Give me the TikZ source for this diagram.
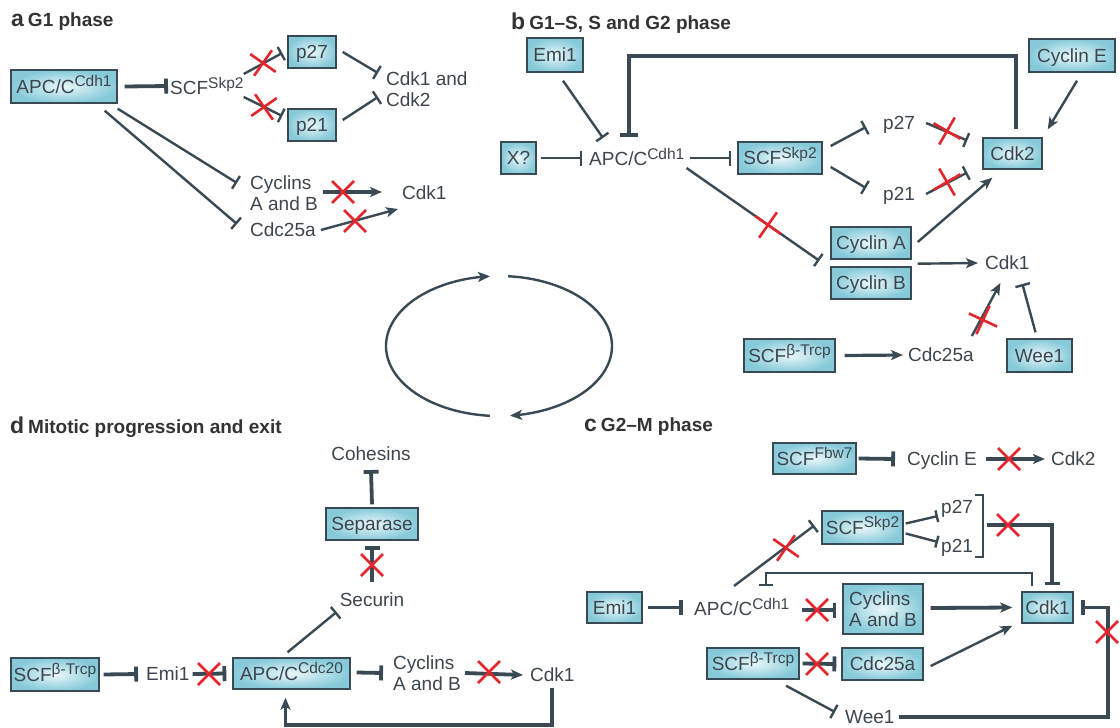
\documentclass[tikz,border=0pt]{standalone}
\usepackage{fontspec}
\setmainfont{Liberation Sans}
\usetikzlibrary{arrows.meta,calc}
\definecolor{ln}{HTML}{3A4A54}
\definecolor{tx}{HTML}{3D464E}
\definecolor{bxo}{HTML}{86CAD9}
\definecolor{bxi}{HTML}{EAF7FA}
\definecolor{xr}{HTML}{E3262D}
\newcommand\upx[1]{\raisebox{6.5pt}{\fontsize{15.5}{15.5}\selectfont #1}}
\begin{document}
\begin{tikzpicture}[x=1pt,y=-1pt,
  lab/.style={text=tx, font=\fontsize{19}{20.5}\selectfont, inner sep=0pt, text height=13.6pt, text depth=0pt},
  lab2/.style={text=tx, font=\fontsize{19}{20.5}\selectfont, inner sep=0pt, align=left},
  box/.style={lab, draw=ln, line width=1.4pt, inner color=bxi, outer color=bxo, minimum height=32pt},
  box2/.style={lab2, draw=ln, line width=1.4pt, inner color=bxi, outer color=bxo},
  ttl/.style={anchor=west, inner sep=0pt, text=black!80, font=\fontsize{19}{22}\selectfont\bfseries},
  con/.style={draw=ln, line width=2.4pt},
  hv/.style={line width=3.8pt},
  inh/.style={con, -{Bar[width=15pt]}},
  act/.style={con, -{Stealth[length=12pt,width=10pt,inset=3pt]}},
  xm/.pic={\draw[xr, line width=2.6pt] (-11,-11) -- (11,11) (-11,11) -- (11,-11);}
]
\fill[white] (0,0) rectangle (1120,728);
\useasboundingbox (0,0) rectangle (1120,728);

% titles
\node[ttl] (ta) at (11,22) {{\fontsize{23}{23}\selectfont a}\hspace{4pt}G1 phase};
\node[ttl] (tb) at (511,23) {{\fontsize{23}{23}\selectfont b}\hspace{4pt}G1–S, S and G2 phase};
\node[ttl] (td) at (10,427) {{\fontsize{23}{23}\selectfont d}\hspace{4pt}Mitotic progression and exit};
\node[ttl] (tc) at (584,427) {{\fontsize{23}{23}\selectfont c}\hspace{4pt}G2–M phase};

% ---------- panel a ----------
\node[box, minimum width=106pt, minimum height=33pt] (a-apc) at (64,86.5) {APC/C\upx{Cdh1}};
\node[lab, anchor=west] (a-scf) at (170,88) {SCF\upx{Skp2}};
\node[box, minimum width=48pt] (a-p27) at (312,52) {p27};
\node[box, minimum width=48pt] (a-p21) at (312,125) {p21};
\node[lab2, anchor=west] (a-cdk12) at (386,89) {Cdk1 and\\Cdk2};
\node[lab2, anchor=west] (a-cyc) at (250,193) {Cyclins\\A and B};
\node[lab, anchor=west] (a-cdk1) at (402,193) {Cdk1};
\node[lab, anchor=west] (a-cdc) at (250,230) {Cdc25a};

\draw[inh,hv] ($(a-apc.east)+(7,0)$) -- ($(a-scf.west)+(-2,-2)$);
\draw[inh] ($(a-scf.east)+(0,-14)$) -- ($(a-p27.west)+(-5,1)$);
\draw[inh] ($(a-scf.east)+(0,9)$) -- ($(a-p21.west)+(-5,-9)$);
\draw[inh] ($(a-p27.east)+(6,0)$) -- ($(a-cdk12.west)+(-8,-16)$);
\draw[inh] ($(a-p21.east)+(6,-5)$) -- ($(a-cdk12.west)+(-8,8)$);
\draw[inh] ($(a-apc.south east)+(0,5)$) -- ($(a-cyc.west)+(-13,-10)$);
\draw[inh] ($(a-apc.south east)+(-13,7)$) -- ($(a-cdc.west)+(-13,-6)$);
\draw[act,hv] ($(a-cyc.east)+(5,-1)$) -- ($(a-cdk1.west)+(-20,-1)$);
\draw[act] ($(a-cdc.east)+(5,0)$) -- ($(a-cdk1.west)+(-4,16)$);
\pic[rotate=10] at (263,63) {xm};
\pic[rotate=-10] at (264,107) {xm};
\pic at (343,192) {xm};
\pic at (355,221) {xm};

% ---------- panel b ----------
\node[box, minimum width=56pt, minimum height=34pt] (b-emi) at (555,55) {Emi1};
\node[box, minimum width=86pt, minimum height=33pt] (b-cyce) at (1072,55.5) {Cyclin E};
\node[box, minimum width=35pt] (b-x) at (518.5,158) {X?};
\node[lab, anchor=west] (b-apc) at (589,159) {APC/C\upx{Cdh1}};
\node[box, minimum width=84pt] (b-scf) at (780,158) {SCF\upx{Skp2}};
\node[lab, anchor=west] (b-p27) at (883,123) {p27};
\node[lab, anchor=west] (b-p21) at (883,194) {p21};
\node[box, minimum width=59pt, minimum height=31pt] (b-cdk2) at (1012.5,153.5) {Cdk2};
\node[box, minimum width=80pt] (b-cyca) at (871,243) {Cyclin A};
\node[box, minimum width=80pt] (b-cycb) at (871,283) {Cyclin B};
\node[lab, anchor=west] (b-cdk1) at (985,263) {Cdk1};
\node[box, minimum width=91pt, minimum height=33pt] (b-scfb) at (789.5,355.5) {SCF\upx{β-Trcp}};
\node[lab, anchor=west] (b-cdc) at (908,355) {Cdc25a};
\node[box, minimum width=65pt, minimum height=33pt] (b-wee) at (1039.5,355.5) {Wee1};

\draw[con, line width=4.2pt, -{Bar[width=18pt]}] ($(b-cdk2.north)+(3.5,-8)$) -- ++(0,-73) -| ($(b-apc.north west)+(40,-15)$);
\draw[inh] ($(b-emi.south)+(8,8)$) -- ($(b-apc.north west)+(14,-14)$);
\draw[inh] ($(b-x.east)+(4,0)$) -- ($(b-apc.west)+(-7,-1)$);
\draw[inh] ($(b-apc.east)+(5,-1)$) -- ($(b-scf.west)+(-6,0)$);
\draw[inh] ($(b-apc.south east)+(2,2)$) -- ($(b-cyca.south west)+(-11,1)$);
\pic[rotate=10] at (768,225) {xm};
\draw[inh] ($(b-scf.east)+(8,-12)$) -- ($(b-p27.west)+(-17,4)$);
\draw[inh] ($(b-scf.east)+(8,9)$) -- ($(b-p21.west)+(-17,-6)$);
\draw[inh] ($(b-p27.east)+(11,0)$) -- ($(b-cdk2.west)+(-15,-13)$);
\draw[inh] ($(b-p21.east)+(11,0)$) -- ($(b-cdk2.west)+(-15,19)$);
\pic[rotate=15] at (947,131) {xm};
\pic[rotate=-15] at (947,182) {xm};
\draw[act] ($(b-cyce.south)+(5,8)$) -- ($(b-cdk2.north east)+(5,-8)$);
\draw[act] ($(b-cyca.east)+(6,-1)$) -- ($(b-cdk2.south west)+(10,8)$);
\draw[act] ($(b-cyca.south east)+(6,4)$) -- ($(b-cdk1.west)+(-7,0)$);
\draw[act,line width=3.2pt] ($(b-scfb.east)+(9,0)$) -- ($(b-cdc.west)+(-5,0)$);
\draw[act] ($(b-cdc.north east)+(-2,-12)$) -- ($(b-cdk1.south)+(-7,13)$);
\pic[rotate=20] at (983,320) {xm};
\draw[inh] ($(b-wee.north)+(-4,-6)$) -- ($(b-cdk1.south)+(15,14)$);

% ---------- cycle ----------
\draw[ln, line width=2.4pt, -{Stealth[length=12pt,width=10pt,inset=3pt]}]
  plot[domain=265.4:94.6, samples=80, smooth] ({499+113*cos(\x)}, {346-70*sin(\x)});
\draw[ln, line width=2.4pt, -{Stealth[length=12pt,width=10pt,inset=3pt]}]
  plot[domain=85.4:-84.4, samples=80, smooth] ({499+113*cos(\x)}, {346-70*sin(\x)});

% ---------- panel d ----------
\node[box, minimum width=88pt, minimum height=33pt] (d-scfb) at (55,674.5) {SCF\upx{β-Trcp}};
\node[lab, anchor=west] (d-emi) at (146,674) {Emi1};
\node[box, minimum width=117pt, minimum height=31pt] (d-apc) at (291.5,673.5) {APC/C\upx{Cdc20}};
\node[lab] (d-sec) at (372,600) {Securin};
\node[box, minimum width=92pt] (d-sep) at (372,524) {Separase};
\node[lab] (d-coh) at (371,454) {Cohesins};
\node[lab2, anchor=west] (d-cyc) at (393,673) {Cyclins\\A and B};
\node[lab, anchor=west] (d-cdk1) at (530,675) {Cdk1};

\draw[inh,hv] ($(d-scfb.east)+(4,0)$) -- ($(d-emi.west)+(-8,0)$);
\draw[inh,hv] ($(d-emi.east)+(3,0)$) -- ($(d-apc.west)+(-6,0)$);
\pic at (209,674) {xm};
\draw[inh] ($(d-apc.north)+(-4,-5)$) -- ($(d-sec.west)+(-3,12)$);
\draw[inh,hv] ($(d-sec.north)+(0,-11)$) -- ($(d-sep.south)+(0,5)$);
\pic at (372,565) {xm};
\draw[inh,hv] ($(d-sep.north)+(0,-3)$) -- ($(d-coh.south)+(0,9)$);
\draw[inh,hv] ($(d-apc.east)+(6,-1)$) -- ($(d-cyc.west)+(-10,0)$);
\draw[act,hv] ($(d-cyc.east)+(4,0)$) -- ($(d-cdk1.west)+(-7,0)$);
\pic at (489,672) {xm};
\draw[act,hv] ($(d-cdk1.south)+(0,6)$) -- ++(0,37) -| ($(d-apc.south)+(-6,8)$);

% ---------- panel c ----------
\node[box, minimum width=83pt, minimum height=31pt] (c-fbw) at (814.5,458.5) {SCF\upx{Fbw7}};
\node[lab, anchor=west] (c-cyce) at (907,459) {Cyclin E};
\node[lab, anchor=west] (c-cdk2) at (1051,459) {Cdk2};
\node[box, minimum width=81pt, minimum height=33pt] (c-skp) at (862.5,527.5) {SCF\upx{Skp2}};
\node[lab, anchor=west] (c-p27) at (941,507) {p27};
\node[lab, anchor=west] (c-p21) at (941,546) {p21};
\node[box, minimum width=51pt, minimum height=31pt] (c-cdk1) at (1047.5,607.5) {Cdk1};
\node[box, minimum width=55pt, minimum height=31pt] (c-emi) at (614.5,607.5) {Emi1};
\node[lab, anchor=west] (c-apc) at (694,609) {APC/C\upx{Cdh1}};
\node[box2, minimum width=80pt, minimum height=50pt] (c-cyc) at (883,609) {Cyclins\\A and B};
\node[box, minimum width=92pt, minimum height=31pt] (c-scfb) at (753,663.5) {SCF\upx{β-Trcp}};
\node[box, minimum width=81pt, minimum height=32pt] (c-cdc) at (882.5,664) {Cdc25a};
\node[lab, anchor=west] (c-wee) at (845,717) {Wee1};
\coordinate (c-brt) at (975,495);
\coordinate (c-brm) at (987,525);

\draw[inh,hv] ($(c-fbw.east)+(2,0)$) -- ($(c-cyce.west)+(-12,0)$);
\draw[act,hv] ($(c-cyce.east)+(9,0)$) -- ($(c-cdk2.west)+(-6,0)$);
\pic at (1009,459) {xm};
\draw[con, -{Bar[width=12pt]}] ($(c-skp.east)+(2,-4)$) -- ($(c-p27.west)+(-3,9)$);
\draw[con, -{Bar[width=12pt]}] ($(c-skp.east)+(2,6)$) -- ($(c-p21.west)+(-3,-4)$);
\draw[ln, line width=1.6pt] (c-brt) -- ++(8,0) -- ++(0,62) -- ++(-8,0);
\draw[inh, line width=3.4pt] (c-brm) -| ($(c-cdk1.north)+(4.5,-6)$);
\pic at (1008,525) {xm};
\draw[con, line width=2.2pt, -{Bar[width=14pt]}] ($(c-cdk1.north)+(-15.5,-5)$) -- ++(0,-13) -| ($(c-apc.north west)+(72,-16)$);
\draw[inh,hv] ($(c-emi.east)+(5,0)$) -- ($(c-emi.east -| c-apc.west)+(-11,0)$);
\draw[inh] ($(c-apc.north west)+(40,-16)$) -- ($(c-skp.west)+(-7,-2)$);
\pic[rotate=10] at (786,548) {xm};
\draw[inh,hv] ($(c-apc.east)+(12,1)$) -- ($(c-cyc.west)+(-6,1)$);
\pic at (817,610) {xm};
\draw[act,hv] ($(c-cyc.east)+(7,-1)$) -- ($(c-cdk1.west)+(-9,0)$);
\draw[act] ($(c-cdc.east)+(7,2)$) -- ($(c-cdk1.south west)+(-9,2)$);
\draw[inh,hv] ($(c-scfb.east)+(3,0)$) -- ($(c-cdc.west)+(-5,0)$);
\pic at (817,664) {xm};
\draw[inh] ($(c-scfb.south)+(33,6)$) -- ($(c-wee.west)+(-10,-5)$);
\draw[inh,hv] ($(c-wee.east)+(4,0)$) -| ($(c-cdk1.east)+(34,0)$) -- ($(c-cdk1.east)+(7,0)$);
\pic at (1107,632) {xm};
\end{tikzpicture}
\end{document}
